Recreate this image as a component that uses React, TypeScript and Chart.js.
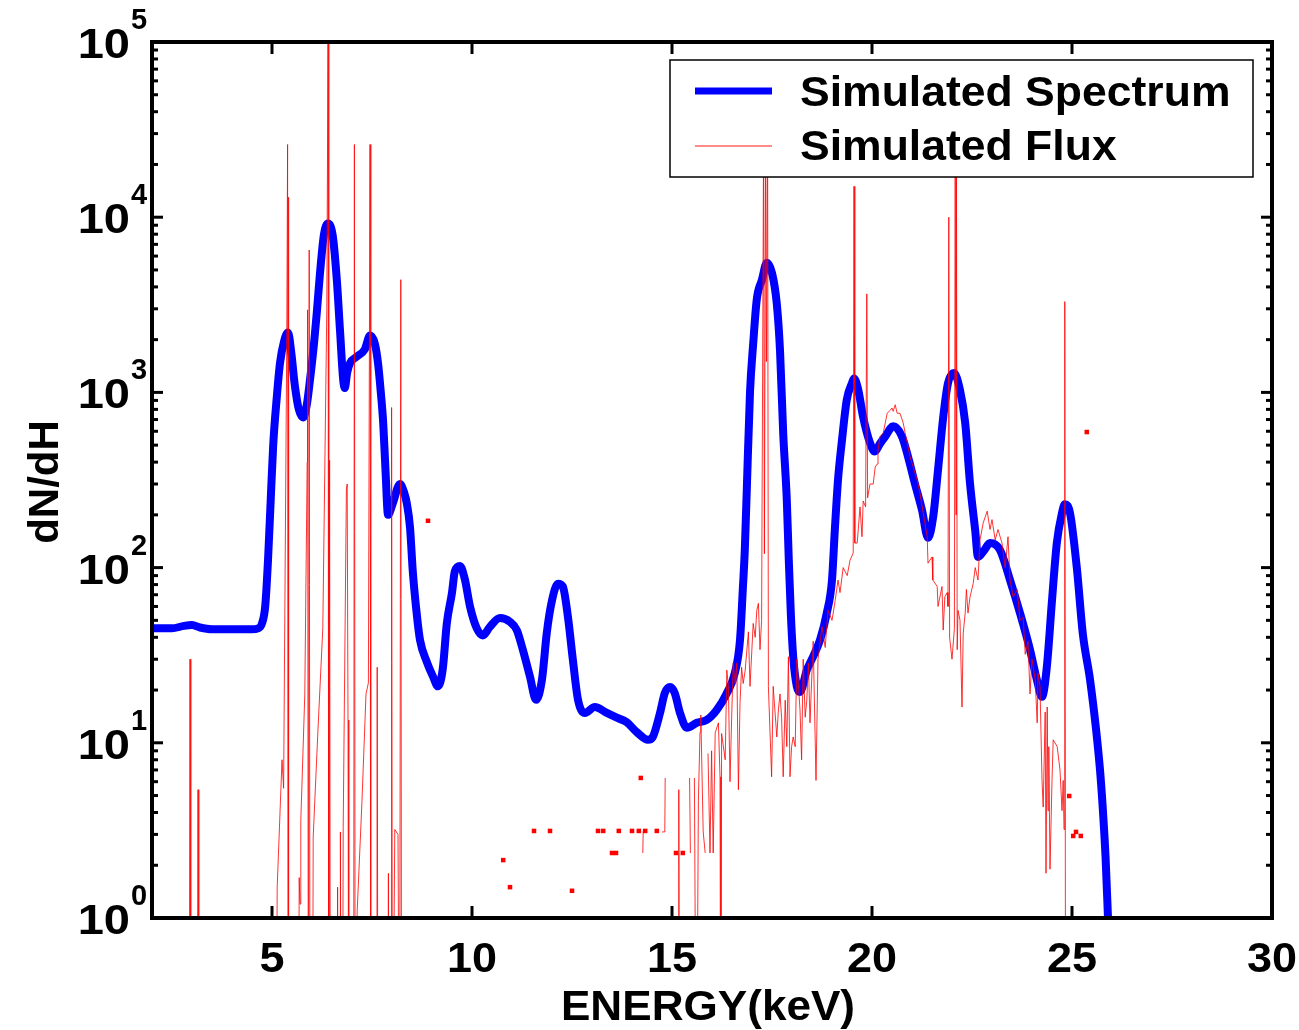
import React, { useEffect, useRef } from "react";
import { Chart, registerables } from "chart.js";

Chart.register(...registerables);

// ---- Data ----
// Simulated Spectrum: [energy keV, dN/dH]
const spectrum: [number, number][] = [
  [2.0, 45], [2.5, 45], [2.8, 46.5], [3.0, 47], [3.2, 45.5], [3.5, 44.5], [4.0, 44.5], [4.5, 44.5],
  [4.65, 45], [4.75, 48], [4.83, 60], [4.9, 110], [4.97, 250], [5.03, 500], [5.12, 940], [5.2, 1470],
  [5.3, 1950], [5.4, 2200], [5.48, 1700], [5.57, 1100], [5.67, 800], [5.78, 720], [5.87, 850], [5.95, 1180],
  [6.05, 1900], [6.12, 2850], [6.2, 4800], [6.3, 8000], [6.4, 9200], [6.52, 7800], [6.62, 4400], [6.7, 2260],
  [6.78, 1180], [6.82, 1060], [6.88, 1300], [6.95, 1470], [7.12, 1600], [7.32, 1760], [7.45, 2110], [7.57, 1900],
  [7.65, 1470], [7.72, 1000], [7.78, 670], [7.84, 350], [7.9, 200], [8.02, 233], [8.2, 300], [8.3, 270],
  [8.37, 233], [8.45, 170], [8.52, 95], [8.62, 54], [8.7, 38.6], [8.87, 29], [9.02, 24], [9.15, 21],
  [9.27, 26.5], [9.37, 48], [9.5, 72], [9.57, 95], [9.7, 102], [9.82, 86], [9.95, 60], [10.12, 45],
  [10.27, 41], [10.45, 46], [10.7, 51.5], [10.95, 49], [11.12, 44], [11.27, 34], [11.45, 23.8], [11.6, 17.6],
  [11.75, 23], [11.87, 42.5], [12.0, 65], [12.15, 81], [12.27, 78], [12.4, 52], [12.52, 30], [12.65, 17.6],
  [12.82, 14.8], [13.07, 16], [13.37, 14.8], [13.62, 13.9], [13.87, 13.1], [14.12, 11.5], [14.4, 10.4], [14.52, 10.8],
  [14.7, 14.8], [14.82, 19.2], [14.95, 20.8], [15.07, 19.2], [15.2, 14.8], [15.37, 12.2], [15.62, 13], [15.87, 13.5],
  [16.12, 15.4], [16.37, 19.2], [16.57, 25], [16.7, 38.6], [16.77, 75], [16.82, 126], [16.87, 280], [16.95, 1000],
  [17.03, 1900], [17.12, 3400], [17.25, 4400], [17.37, 5500], [17.5, 4800], [17.62, 3200], [17.7, 1740], [17.78, 585],
  [17.87, 243], [17.92, 110], [17.97, 55], [18.03, 31], [18.12, 21], [18.2, 19.5], [18.37, 26], [18.45, 28.5],
  [18.7, 38.6], [18.87, 55], [19.0, 85], [19.07, 163], [19.15, 316], [19.25, 535], [19.37, 910], [19.5, 1130],
  [19.55, 1200], [19.65, 1050], [19.78, 720], [19.95, 515], [20.07, 460], [20.2, 510], [20.33, 560], [20.53, 640],
  [20.75, 560], [20.9, 430], [21.07, 303], [21.25, 213], [21.4, 148], [21.53, 195], [21.65, 360], [21.78, 720],
  [21.9, 1130], [22.05, 1290], [22.2, 1030], [22.33, 670], [22.45, 303], [22.58, 163], [22.65, 115], [22.8, 125],
  [22.95, 138], [23.2, 126], [23.45, 85], [23.7, 55], [23.95, 34], [24.12, 23], [24.25, 18.3], [24.37, 27],
  [24.5, 65], [24.62, 138], [24.75, 205], [24.82, 230], [24.95, 205], [25.12, 100], [25.27, 42], [25.45, 23],
  [25.6, 12], [25.7, 7], [25.77, 4.2], [25.84, 2.2], [25.9, 1],
];

// Simulated Flux (line): [energy keV, value]; null = break in the line, 0.05 = below the axis
const flux: [number, number | null][] = [
  [2.93, 0.05], [2.95, 30], [2.97, 0.05], [2.98, null],
  [3.13, 0.05], [3.15, 5.4], [3.17, 0.05], [3.18, null],
  [5.1, 0.05], [5.13, 1.5], [5.25, 8], [5.29, 5.5], [5.37, 2200], [5.39, 26000], [5.4, 0.05], [5.41, 13000], [5.42, 0.05], [5.43, null],
  [5.66, 0.05], [5.68, 1.7], [5.7, 1.2], [5.72, 3.6], [5.82, 19], [5.88, 400], [5.89, 2960], [5.91, 0.05], [5.93, 6500], [5.95, 0.05], [5.96, null],
  [6.01, 0.05], [6.03, 2.9], [6.15, 12], [6.27, 45], [6.37, 3000], [6.4, 100000], [6.42, 0.05], [6.44, 410], [6.46, 0.05], [6.47, null],
  [6.62, 0.05], [6.64, 1.5], [6.66, 0.05], [6.7, 0.05], [6.71, 3.1], [6.73, 0.05], [6.76, 0.05], [6.78, 3.3], [6.86, 280], [6.88, 300], [6.9, 13.5], [6.92, 0.05], [6.93, null],
  [7.04, 0.05], [7.06, 26000], [7.08, 0.05], [7.13, 1.1], [7.25, 4.7], [7.35, 19], [7.41, 22], [7.45, 26000], [7.47, 0.05], [7.48, null],
  [7.62, 0.05], [7.63, 27], [7.65, 0.05], [7.66, null],
  [7.89, 0.05], [7.91, 1.8], [7.93, 0.05], [7.98, 0.05], [7.99, 820], [8.01, 0.05], [8.07, 3.2], [8.15, 3], [8.19, 0.05], [8.22, 4400], [8.24, 0.05], [8.25, null],
  [14.27, 2.35], [14.28, 3.14], [14.29, null],
  [14.75, 3.1], [14.82, 3.1], [14.83, 6.3], [14.84, null],
  [15.16, 0.05], [15.17, 5.4], [15.19, 0.05], [15.2, null],
  [15.44, 6.3], [15.46, 2.35], [15.47, null],
  [15.56, 6.3], [15.61, 0.05], [15.66, 4.7], [15.7, 11.5], [15.72, 14.4], [15.78, 3.1], [15.83, 2.35], [15.85, null],
  [15.9, 8.7], [15.95, 2.35], [15.99, 9], [16.03, 2.35], [16.08, 11.4], [16.16, 13], [16.2, 6.4], [16.22, 0.05],
  [16.24, 11.3], [16.33, 8], [16.37, 26], [16.41, 21], [16.45, 6], [16.49, 13.5], [16.53, 28.5], [16.58, 21.8],
  [16.62, 28.5], [16.66, 5.4], [16.7, 16.8], [16.74, 27], [16.78, 21.8], [16.83, 26], [16.91, 43], [16.95, 21],
  [17.03, 48], [17.08, 40], [17.12, 57], [17.16, 62.5], [17.2, 34], [17.24, 50], [17.29, 30000], [17.31, 120],
  [17.34, 30000], [17.36, 1500], [17.39, 30000], [17.41, 21], [17.49, 6.4], [17.53, 21], [17.62, 10.8], [17.66, 15.4],
  [17.7, 19], [17.74, 14], [17.78, 6.4], [17.83, 17.5], [17.87, 9.5], [17.91, 31], [17.95, 6.4], [17.99, 9.5],
  [18.03, 10.8], [18.08, 9.5], [18.12, 30], [18.2, 15.4], [18.24, 8], [18.28, 30], [18.33, 14], [18.37, 17.5],
  [18.41, 28.5], [18.45, 13], [18.53, 38], [18.6, 6.1], [18.65, 30], [18.75, 46], [18.83, 35], [18.9, 57],
  [19.0, 50], [19.08, 65], [19.15, 85], [19.2, 72], [19.28, 100], [19.38, 90], [19.45, 110], [19.53, 121],
  [19.55, 15000], [19.57, 138], [19.63, 138], [19.7, 222], [19.75, 150], [19.78, 240], [19.84, 222], [19.87, 3650],
  [19.89, 250], [19.95, 300], [20.03, 300], [20.08, 375], [20.13, 390], [20.15, 470], [20.2, 560], [20.28, 585],
  [20.38, 760], [20.45, 790], [20.5, 815], [20.53, 780], [20.58, 850], [20.63, 760], [20.7, 760], [20.78, 670],
  [20.83, 585], [20.95, 430], [21.03, 375], [21.13, 315], [21.2, 265], [21.28, 205], [21.38, 150], [21.4, 106],
  [21.5, 115], [21.52, 85], [21.63, 78], [21.65, 60], [21.75, 78], [21.78, 44], [21.82, 68], [21.88, 72],
  [21.9, 60], [21.92, 10000], [21.94, 40], [22.0, 30], [22.06, 45], [22.08, 30000], [22.1, 200], [22.11, 30000],
  [22.13, 34], [22.15, 57], [22.2, 50], [22.25, 16], [22.28, 42], [22.33, 55], [22.36, 75], [22.4, 55],
  [22.45, 68], [22.53, 81], [22.58, 100], [22.65, 85], [22.7, 144], [22.78, 180], [22.88, 210], [22.95, 165],
  [23.0, 188], [23.08, 144], [23.15, 165], [23.25, 138], [23.33, 100], [23.4, 150], [23.45, 85], [23.53, 68],
  [23.63, 75], [23.7, 50], [23.78, 52], [23.83, 32], [23.9, 38], [23.95, 19], [24.0, 30], [24.08, 23],
  [24.13, 13], [24.15, 25], [24.2, 21], [24.25, 6.1], [24.28, 4.3], [24.33, 15], [24.35, 1.8], [24.38, 16],
  [24.4, 4.1], [24.42, 9.5], [24.45, 1.9], [24.5, 6.1], [24.53, 10.4], [24.63, 9.5], [24.7, 7], [24.75, 4.1],
  [24.78, 6.1], [24.8, 3.2], [24.82, 3300], [24.84, 0.05],
];

// Isolated flux samples (drawn as dots)
const fluxDotE = [8.9, 10.78, 10.95, 11.55, 11.95, 12.5, 13.15, 13.28, 13.5, 13.6, 13.67, 14.0, 14.17, 14.22, 14.33, 14.62, 15.1, 15.27, 24.93, 25.03, 25.1, 25.22, 25.37];
const fluxDotV = [185, 2.14, 1.5, 3.14, 3.14, 1.43, 3.14, 3.14, 2.35, 2.35, 3.14, 3.14, 3.14, 6.3, 3.14, 3.14, 2.35, 2.35, 4.97, 2.94, 3.1, 2.94, 594];

const xTicks = [5, 10, 15, 20, 25, 30];
const yExponents = [0, 1, 2, 3, 4, 5];
const seriesNames = ["Simulated Spectrum", "Simulated Flux"];
const xTitle = "ENERGY(keV)";
const yTitle = "dN/dH";

const FONT = "'Liberation Sans', Arial, Helvetica, sans-serif";
const BLUE = "#0000ff";
const RED = "rgba(255,0,0,0.8)";

function drawText(ctx: CanvasRenderingContext2D, text: string, x: number, y: number, size: number, align: CanvasTextAlign, sx = 1.07) {
  ctx.save();
  ctx.font = `bold ${size}px ${FONT}`;
  ctx.fillStyle = "#000";
  ctx.textAlign = align;
  ctx.textBaseline = "alphabetic";
  ctx.translate(x, y);
  ctx.scale(sx, 1);
  ctx.fillText(text, 0, 0);
  ctx.restore();
}

const decorPlugin = {
  id: "decor",
  afterDatasetsDraw(chart: any) {
    const ctx: CanvasRenderingContext2D = chart.ctx;
    const a = chart.chartArea;
    const xs = chart.scales.x;
    const ys = chart.scales.y;
    ctx.save();

    // legend box
    const lx = 670, ly = 60, lw = 583, lh = 117;
    ctx.fillStyle = "#fff";
    ctx.fillRect(lx, ly, lw, lh);
    ctx.strokeStyle = "#000";
    ctx.lineWidth = 1.5;
    ctx.strokeRect(lx, ly, lw, lh);
    ctx.lineCap = "butt";
    ctx.strokeStyle = BLUE;
    ctx.lineWidth = 7;
    ctx.beginPath(); ctx.moveTo(695, 91); ctx.lineTo(772, 91); ctx.stroke();
    ctx.strokeStyle = "rgba(255,60,60,0.8)";
    ctx.lineWidth = 1.5;
    ctx.beginPath(); ctx.moveTo(695, 146); ctx.lineTo(772, 146); ctx.stroke();
    drawText(ctx, seriesNames[0], 800, 106, 42, "left", 1.06);
    drawText(ctx, seriesNames[1], 800, 160, 42, "left", 1.06);

    // frame
    ctx.strokeStyle = "#000";
    ctx.lineWidth = 4;
    ctx.strokeRect(a.left, a.top, a.right - a.left, a.bottom - a.top);

    // ticks
    ctx.lineWidth = 3;
    const seg = (x1: number, y1: number, x2: number, y2: number) => {
      ctx.beginPath(); ctx.moveTo(x1, y1); ctx.lineTo(x2, y2); ctx.stroke();
    };
    for (const v of xTicks) {
      const px = xs.getPixelForValue(v);
      seg(px, a.bottom, px, a.bottom - 12);
      seg(px, a.top, px, a.top + 12);
    }
    for (let d = 0; d < 5; d++) {
      for (let m = 1; m <= 9; m++) {
        const py = ys.getPixelForValue(m * Math.pow(10, d));
        const len = m === 1 ? 11 : 6;
        seg(a.left, py, a.left + len, py);
        seg(a.right, py, a.right - len, py);
      }
    }

    // x tick labels
    for (const v of xTicks) {
      drawText(ctx, String(v), xs.getPixelForValue(v), 972, 42, "center");
    }
    // y tick labels 10^k
    for (const k of yExponents) {
      const py = ys.getPixelForValue(Math.pow(10, k));
      drawText(ctx, "10", 130, py + 16, 42, "right", 1.12);
      drawText(ctx, String(k), 131, py - 13, 29, "left", 1.0);
    }
    // axis titles
    drawText(ctx, xTitle, 708, 1020, 42, "center", 1.05);
    ctx.save();
    ctx.translate(58, 482);
    ctx.rotate(-Math.PI / 2);
    drawText(ctx, yTitle, 0, 0, 42, "center", 1.0);
    ctx.restore();

    ctx.restore();
  },
};

export default function App() {
  const ref = useRef<HTMLCanvasElement | null>(null);

  useEffect(() => {
    if (!ref.current) return;
    const chart = new Chart(ref.current, {
      type: "line",
      data: {
        datasets: [
          {
            label: seriesNames[1],
            data: flux.map(([x, y]) => ({ x, y })),
            borderColor: RED,
            borderWidth: 1,
            pointRadius: 0,
            tension: 0,
            spanGaps: false,
            fill: false,
          },
          {
            type: "scatter" as any,
            label: "flux samples",
            data: fluxDotE.map((x, i) => ({ x, y: fluxDotV[i] })),
            backgroundColor: "#ff0000",
            borderColor: "#ff0000",
            borderWidth: 0,
            pointStyle: "rect",
            pointRadius: 3.2,
            showLine: false,
          },
          {
            label: seriesNames[0],
            data: spectrum.map(([x, y]) => ({ x, y })),
            borderColor: BLUE,
            borderWidth: 8,
            pointRadius: 0,
            cubicInterpolationMode: "monotone",
            borderJoinStyle: "round",
            borderCapStyle: "round",
            fill: false,
          },
        ],
      },
      options: {
        responsive: false,
        devicePixelRatio: 1,
        animation: false,
        layout: { padding: { left: 152, right: 27, top: 42, bottom: 112 } },
        scales: {
          x: { type: "linear", min: 2, max: 30, display: false },
          y: { type: "logarithmic", min: 1, max: 100000, display: false },
        },
        plugins: { legend: { display: false }, tooltip: { enabled: false } },
        events: [],
      },
      plugins: [decorPlugin],
    });
    return () => chart.destroy();
  }, []);

  return (
    <div style={{ position: "absolute", left: 0, top: 0, width: 1299, height: 1030, background: "#fff" }}>
      <canvas ref={ref} width={1299} height={1030} style={{ display: "block" }} />
    </div>
  );
}
